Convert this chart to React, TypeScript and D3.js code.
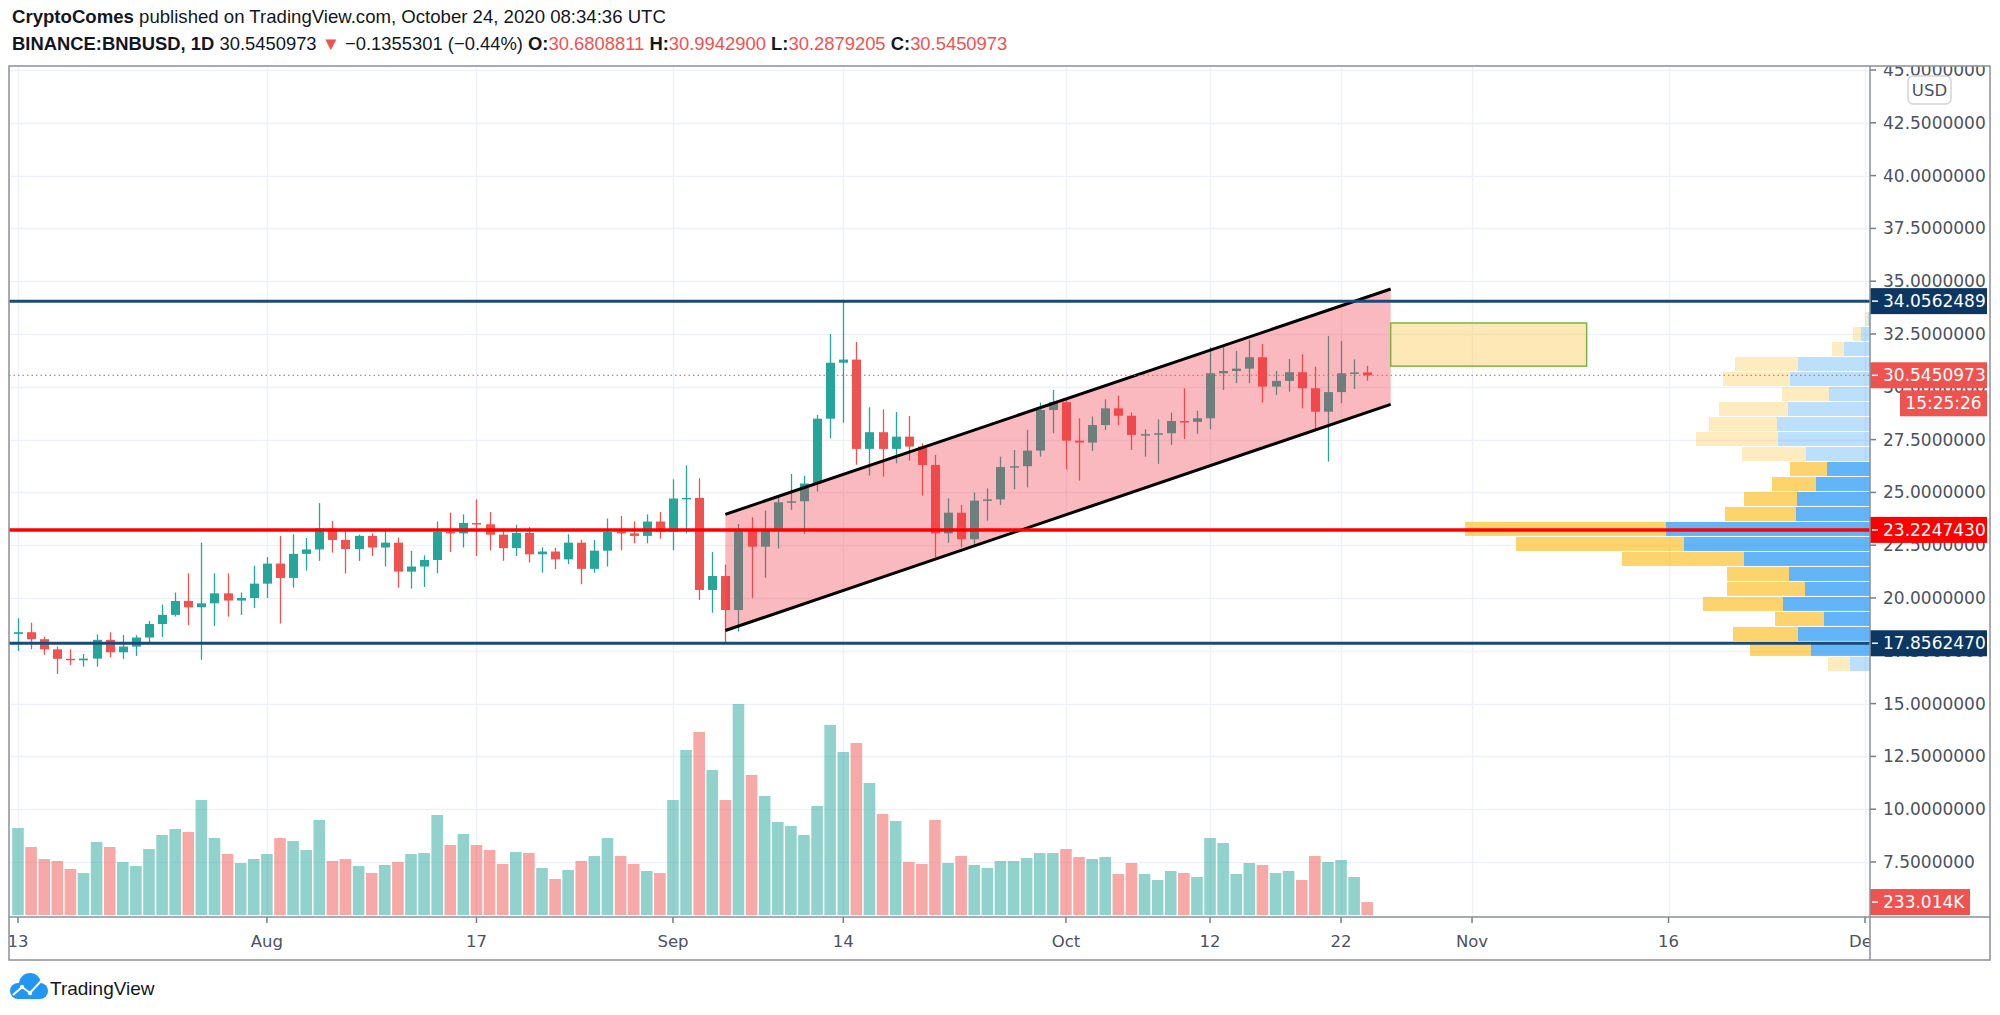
import React from "react";
import * as d3 from "d3";

// ---- data ----
const startDay = Date.UTC(2020, 6, 13);

const opens = [
  18.30, 18.38, 18.05, 17.57, 17.12, 17.05, 17.13, 18.02, 17.43, 17.70, 18.13, 18.77, 19.20, 19.86, 19.56, 19.75, 20.22, 19.88, 20.00,
  20.68, 21.63, 20.95, 22.09, 22.30, 23.29, 22.75, 22.32, 22.94, 22.39, 22.62, 21.25, 21.49, 21.80, 23.13, 23.06, 23.55, 23.49, 23.00, 22.36, 23.08, 22.07, 22.20, 21.83, 22.62, 21.38, 22.24, 23.13, 23.06, 22.94, 23.62,
  23.14, 24.71, 24.74, 20.38, 21.04, 19.43, 23.17, 22.43, 23.25, 24.53, 24.58, 25.42, 28.49, 31.14, 31.29, 27.06, 27.85, 27.06, 27.64, 27.17, 26.30, 23.06, 24.04, 22.78, 24.61, 24.67, 26.20, 26.24, 26.98, 28.90,
  29.27, 27.45, 27.36, 28.19, 28.98, 28.63, 27.72, 27.76, 27.80, 28.38, 28.34, 28.51, 30.64, 30.75, 30.86, 31.40, 30.01, 30.28, 30.69, 29.93, 28.82, 29.75, 30.64, 30.6808811,
];
const highs = [
  19.04, 18.83, 18.17, 17.70, 17.57, 17.35, 18.28, 18.38, 18.24, 18.24, 18.91, 19.69, 20.26, 21.17, 22.62, 21.17, 21.17, 20.26, 21.52,
  21.94, 22.94, 23.02, 22.84, 24.49, 23.65, 23.27, 23.00, 23.06, 23.25, 22.86, 22.23, 22.02, 23.62, 24.04, 23.96, 24.67, 24.07, 23.29, 23.46, 23.36, 22.40, 22.37, 23.02, 22.75, 22.75, 23.76, 23.89, 23.62, 23.96, 24.07,
  25.62, 26.28, 25.67, 22.18, 21.58, 23.51, 23.82, 24.14, 24.75, 25.87, 25.79, 28.67, 32.50, 34.06, 32.12, 29.03, 28.93, 28.81, 28.62, 27.32, 26.77, 24.72, 24.41, 24.99, 25.19, 26.69, 27.01, 27.96, 29.25, 29.85,
  29.45, 28.51, 28.59, 29.41, 29.58, 28.78, 27.99, 28.46, 28.78, 29.93, 28.87, 31.87, 31.87, 31.70, 32.22, 32.03, 30.75, 31.32, 31.54, 30.95, 32.41, 32.17, 31.30, 30.99429,
];
const lows = [
  17.49, 17.57, 17.31, 16.41, 16.83, 16.75, 16.75, 17.19, 17.12, 17.26, 17.89, 18.16, 19.12, 18.71, 17.07, 18.68, 19.12, 19.20, 19.53,
  19.99, 18.79, 20.49, 21.30, 21.76, 22.15, 21.16, 21.76, 21.99, 21.49, 20.49, 20.45, 20.52, 21.17, 22.18, 22.39, 21.99, 22.26, 21.76, 21.99, 21.68, 21.20, 21.36, 21.61, 20.65, 21.20, 21.49, 22.26, 22.59, 22.59, 22.81,
  22.26, 23.06, 19.91, 19.31, 17.86, 18.41, 19.99, 20.96, 22.35, 24.17, 23.03, 25.04, 27.56, 28.30, 26.31, 25.79, 25.75, 26.38, 26.50, 24.85, 21.93, 22.62, 22.40, 22.50, 23.66, 24.41, 25.15, 25.24, 26.69, 27.80,
  26.09, 25.56, 26.96, 27.96, 28.19, 27.01, 26.69, 26.35, 27.25, 27.53, 27.77, 27.99, 29.85, 30.17, 30.17, 29.25, 29.61, 29.77, 28.98, 27.96, 26.46, 29.22, 29.90, 30.2879205,
];
const closes = [
  18.38, 18.05, 17.57, 17.12, 17.05, 17.13, 18.02, 17.43, 17.70, 18.13, 18.77, 19.20, 19.86, 19.56, 19.75, 20.22, 19.88, 20.00, 20.68,
  21.63, 20.95, 22.09, 22.30, 23.29, 22.75, 22.32, 22.94, 22.39, 22.62, 21.25, 21.49, 21.80, 23.13, 23.06, 23.55, 23.49, 23.00, 22.36, 23.08, 22.07, 22.20, 21.83, 22.62, 21.38, 22.24, 23.13, 23.06, 22.94, 23.62, 23.14,
  24.71, 24.74, 20.38, 21.04, 19.43, 23.17, 22.43, 23.25, 24.53, 24.58, 25.42, 28.49, 31.14, 31.29, 27.06, 27.85, 27.06, 27.64, 27.17, 26.30, 23.06, 24.04, 22.78, 24.61, 24.67, 26.20, 26.24, 26.98, 28.90, 29.27,
  27.45, 27.36, 28.19, 28.98, 28.63, 27.72, 27.76, 27.80, 28.38, 28.34, 28.51, 30.64, 30.75, 30.86, 31.40, 30.01, 30.28, 30.69, 29.93, 28.82, 29.75, 30.64, 30.68, 30.5450973,
];
// volume, thousands
const volumes = [
  1566, 1224, 1008, 972, 828, 756, 1314, 1224, 954, 882, 1188, 1440, 1548, 1494, 2070, 1386, 1098, 936, 1008,
  1098, 1386, 1332, 1170, 1710, 972, 1008, 882, 756, 900, 954, 1098, 1116, 1800, 1260, 1458, 1260, 1170, 918, 1134, 1116, 846, 648, 810, 972, 1062, 1386, 1062, 918, 792, 756,
  2070, 2970, 3294, 2610, 2070, 3798, 2520, 2142, 1674, 1602, 1440, 1962, 3420, 2934, 3096, 2376, 1818, 1692, 954, 918, 1710, 936, 1062, 900, 846, 972, 972, 1026, 1116, 1116,
  1188, 1044, 1008, 1044, 738, 936, 738, 630, 792, 756, 684, 1386, 1296, 738, 936, 900, 756, 792, 630, 1062, 954, 990, 684, 233.014,
];

// visible-range volume profile, rows from bottom to top
const profileLow = 16.5;
const profileRow = 0.71;
const profileUp = [200, 590, 720, 460, 870, 650, 810, 1260, 1860, 2040, 740, 730, 540, 430, 640, 920, 930, 820, 410, 800, 720, 260, 90, 20];
const profileDown = [220, 610, 650, 490, 800, 780, 620, 1220, 1680, 2010, 710, 530, 440, 370, 640, 820, 680, 690, 470, 670, 630, 120, 80, 30];
const valueArea = [false, true, true, true, true, true, true, true, true, true, true, true, true, true, false, false, false, false, false, false, false, false, false, false];

const priceTicks = [7.5, 10, 12.5, 15, 17.5, 20, 22.5, 25, 27.5, 30, 32.5, 35, 37.5, 40, 42.5, 45];
const timeTicks = ["2020-07-13", "2020-08-01", "2020-08-17", "2020-09-01", "2020-09-14", "2020-10-01", "2020-10-12", "2020-10-22", "2020-11-01", "2020-11-16", "2020-12-01"];
const timeLabels = ["13", "Aug", "17", "Sep", "14", "Oct", "12", "22", "Nov", "16", "Dec"];

const supportLevels = [
  { price: 34.0562489, color: "#1b4a78", label: "#0c3762" },
  { price: 23.224743, color: "#ff0000", label: "#ff0000" },
  { price: 17.856247, color: "#1b4a78", label: "#0c3762" },
];
const lastPrice = 30.5450973;

const channelStart = "2020-09-05T00:00Z";
const channelEnd = "2020-10-25T19:00Z";
const channelUpper = [23.96, 34.63];
const channelLower = [18.46, 29.17];
const targetBox = { from: "2020-10-25T19:00Z", to: "2020-11-09T18:00Z", low: 30.98, high: 33.02 };

// ---- layout ----
const W = 2000;
const H = 1015;
const PANE_L = 9;
const PANE_R = 1870;
const PANE_T = 66;
const PANE_B = 917;
const AXIS_R = 1990;
const FRAME_B = 960;
const VOL_BASE = 915;
const VOL_TOP = 704;
const UP = "#26a69a";
const DOWN = "#ef5350";
const AXIS_FONT = "'DejaVu Sans', sans-serif";
const HEAD_FONT = "'Liberation Sans', Arial, sans-serif";

export default function App() {
  const x = d3.scaleUtc().domain([startDay, Date.UTC(2020, 11, 1)]).range([18, 1865]);
  const y = d3.scaleLinear().domain([7.5, 45]).range([862, 70]);
  const yVol = d3.scaleLinear().domain([0, d3.max(volumes) as number]).range([VOL_BASE, VOL_TOP]);
  const profW = d3.scaleLinear().domain([0, 4050]).range([0, 405]);

  const dates = opens.map((_, i) => d3.utcDay.offset(new Date(startDay), i));
  const step = x(dates[1]) - x(dates[0]);
  const bodyW = 9;
  const fmt = d3.format(".7f");

  const candles = dates.map((d, i) => {
    const cx = Math.round(x(d)) + 0.5;
    const up = closes[i] >= opens[i];
    const col = up ? UP : DOWN;
    const top = y(Math.max(opens[i], closes[i]));
    const bot = y(Math.min(opens[i], closes[i]));
    return (
      <g key={i}>
        <line x1={cx} x2={cx} y1={y(highs[i])} y2={y(lows[i])} stroke={col} strokeWidth={1.3} />
        <rect x={cx - bodyW / 2} y={top} width={bodyW} height={Math.max(1.5, bot - top)} fill={col} />
      </g>
    );
  });

  const volBars = dates.map((d, i) => {
    const up = closes[i] >= opens[i];
    const vw = step - 1.5;
    return (
      <rect
        key={i}
        x={x(d) - vw / 2}
        y={yVol(volumes[i])}
        width={vw}
        height={VOL_BASE - yVol(volumes[i])}
        fill={up ? UP : DOWN}
        opacity={0.5}
      />
    );
  });

  const profile = profileUp.map((u, k) => {
    const top = y(profileLow + profileRow * (k + 1));
    const bot = y(profileLow + profileRow * k);
    const h = bot - top - 1;
    const a = valueArea[k] ? 0.7 : 0.3;
    const uw = profW(u);
    const dw = profW(profileDown[k]);
    return (
      <g key={k}>
        <rect x={PANE_R - uw} y={top} width={uw} height={h} fill="#2196f3" opacity={a} />
        <rect x={PANE_R - uw - dw} y={top} width={dw} height={h} fill="#fbc02d" opacity={a} />
      </g>
    );
  });

  const cx0 = x(new Date(channelStart));
  const cx1 = x(new Date(channelEnd));
  const channelPts = [
    [cx0, y(channelUpper[0])],
    [cx1, y(channelUpper[1])],
    [cx1, y(channelLower[1])],
    [cx0, y(channelLower[0])],
  ];

  const axisLabel = (yc: number, bg: string, text: string, key: string, x0 = PANE_R, x1 = 1987) => (
    <g key={key}>
      <rect x={x0} y={yc - 13} width={x1 - x0} height={26} fill={bg} />
      {x0 === PANE_R && <line x1={PANE_R + 2} x2={PANE_R + 8} y1={yc} y2={yc} stroke="#fff" strokeWidth={1.5} />}
      <text x={x0 === PANE_R ? 1883 : (x0 + x1) / 2} y={yc} dy="0.35em" fill="#fff" fontSize={17} fontFamily={AXIS_FONT}
        textAnchor={x0 === PANE_R ? "start" : "middle"}>
        {text}
      </text>
    </g>
  );

  return (
    <svg width={W} height={H} style={{ position: "absolute", left: 0, top: 0, background: "#fff" }}>
      <defs>
        <clipPath id="pane">
          <rect x={PANE_L} y={PANE_T} width={PANE_R - PANE_L} height={PANE_B - PANE_T} />
        </clipPath>
        <clipPath id="paxis">
          <rect x={PANE_R} y={PANE_T} width={AXIS_R - PANE_R} height={PANE_B - PANE_T} />
        </clipPath>
        <clipPath id="taxis">
          <rect x={PANE_L} y={PANE_B} width={PANE_R - PANE_L} height={FRAME_B - PANE_B} />
        </clipPath>
      </defs>
      <rect width={W} height={H} fill="#fff" />

      {/* header */}
      <text x={12} y={23} fontSize={18.6} fontFamily={HEAD_FONT} fill="#131722">
        <tspan fontWeight="bold">CryptoComes</tspan>
        <tspan> published on TradingView.com, October 24, 2020 08:34:36 UTC</tspan>
      </text>
      <text x={12} y={50} fontSize={18.4} fontFamily={HEAD_FONT} fill="#131722">
        <tspan fontWeight="bold">BINANCE:BNBUSD, 1D</tspan>
        <tspan> 30.5450973 </tspan>
        <tspan fill={DOWN}>▼</tspan>
        <tspan> −0.1355301 (−0.44%) </tspan>
        <tspan fontWeight="bold">O:</tspan>
        <tspan fill={DOWN}>30.6808811</tspan>
        <tspan fontWeight="bold"> H:</tspan>
        <tspan fill={DOWN}>30.9942900</tspan>
        <tspan fontWeight="bold"> L:</tspan>
        <tspan fill={DOWN}>30.2879205</tspan>
        <tspan fontWeight="bold"> C:</tspan>
        <tspan fill={DOWN}>30.5450973</tspan>
      </text>

      <g clipPath="url(#pane)">
        {/* grid */}
        {priceTicks.map((p) => (
          <line key={p} x1={PANE_L} x2={PANE_R} y1={Math.round(y(p)) + 0.5} y2={Math.round(y(p)) + 0.5} stroke="#eef1f8" strokeWidth={1.5} />
        ))}
        {timeTicks.map((t) => (
          <line key={t} x1={Math.round(x(new Date(t))) + 0.5} x2={Math.round(x(new Date(t))) + 0.5} y1={PANE_T} y2={PANE_B} stroke="#eef1f8" strokeWidth={1.5} />
        ))}
        {volBars}
        {profile}
        {candles}
        <polygon points={channelPts.map((p) => p.join(",")).join(" ")} fill="#f23645" opacity={0.35} />
        <line x1={channelPts[0][0]} y1={channelPts[0][1]} x2={channelPts[1][0]} y2={channelPts[1][1]} stroke="#000" strokeWidth={3} />
        <line x1={channelPts[3][0]} y1={channelPts[3][1]} x2={channelPts[2][0]} y2={channelPts[2][1]} stroke="#000" strokeWidth={3} />
        <rect
          x={x(new Date(targetBox.from))}
          y={y(targetBox.high)}
          width={x(new Date(targetBox.to)) - x(new Date(targetBox.from))}
          height={y(targetBox.low) - y(targetBox.high)}
          fill="rgba(251,192,45,0.35)"
          stroke="#7cb342"
          strokeWidth={1.5}
        />
        <line x1={PANE_L} x2={PANE_R} y1={y(lastPrice)} y2={y(lastPrice)} stroke={DOWN} strokeWidth={1} strokeDasharray="1.5 3" />
        {supportLevels.map((s) => (
          <line key={s.price} x1={PANE_L} x2={PANE_R} y1={y(s.price)} y2={y(s.price)} stroke={s.color} strokeWidth={s.color === "#ff0000" ? 3.5 : 3} />
        ))}
      </g>

      {/* price axis */}
      <g clipPath="url(#paxis)">
        {priceTicks.map((p) => (
          <g key={p}>
            <line x1={PANE_R} x2={PANE_R + 6} y1={y(p)} y2={y(p)} stroke="#787b86" strokeWidth={1.5} />
            <text x={1883} y={y(p)} dy="0.35em" fontSize={17} fontFamily={AXIS_FONT} fill="#4c525e">
              {fmt(p)}
            </text>
          </g>
        ))}
        {supportLevels.map((s) => axisLabel(y(s.price), s.label, fmt(s.price), "s" + s.price))}
        {axisLabel(y(lastPrice), DOWN, fmt(lastPrice), "last")}
        {axisLabel(y(lastPrice) + 28, DOWN, "15:25:26", "timer", 1900, 1987)}
        {axisLabel(yVol(volumes[volumes.length - 1]), DOWN, "233.014K", "vol", PANE_R, 1970)}
      </g>
      <rect x={1908} y={76} width={43} height={28} rx={5} fill="#fff" stroke="#d1d4dc" strokeWidth={1.5} />
      <text x={1929.5} y={90} dy="0.35em" textAnchor="middle" fontSize={16.5} fontFamily={AXIS_FONT} fill="#4c525e">USD</text>

      {/* time axis */}
      <g clipPath="url(#taxis)">
        {timeTicks.map((t, i) => (
          <g key={t}>
            <line x1={x(new Date(t))} x2={x(new Date(t))} y1={PANE_B} y2={PANE_B + 6} stroke="#787b86" strokeWidth={1.5} />
            <text x={x(new Date(t))} y={941} dy="0.35em" textAnchor="middle" fontSize={16.5} fontFamily={AXIS_FONT} fill="#4c525e">
              {timeLabels[i]}
            </text>
          </g>
        ))}
      </g>

      {/* frame */}
      <g stroke="#8a8f99" strokeWidth={1.5} fill="none">
        <rect x={PANE_L} y={PANE_T} width={AXIS_R - PANE_L} height={FRAME_B - PANE_T} />
        <line x1={PANE_L} x2={AXIS_R} y1={PANE_B} y2={PANE_B} />
        <line x1={PANE_R} x2={PANE_R} y1={PANE_T} y2={FRAME_B} />
      </g>

      {/* TradingView logo */}
      <g fill="#2196f3">
        <circle cx={18} cy={991} r={8} />
        <circle cx={30} cy={984} r={11} />
        <circle cx={40} cy={991} r={8} />
        <rect x={18} y={988} width={22} height={11} />
      </g>
      <polyline points="13,995 22,987 30,993 42,980" fill="none" stroke="#fff" strokeWidth={2} />
      <circle cx={22} cy={987} r={2.2} fill="#fff" />
      <circle cx={30} cy={993} r={2.2} fill="#fff" />
      <text x={50} y={988} dy="0.35em" fontSize={19} fontFamily={HEAD_FONT} fill="#131722">TradingView</text>
    </svg>
  );
}
